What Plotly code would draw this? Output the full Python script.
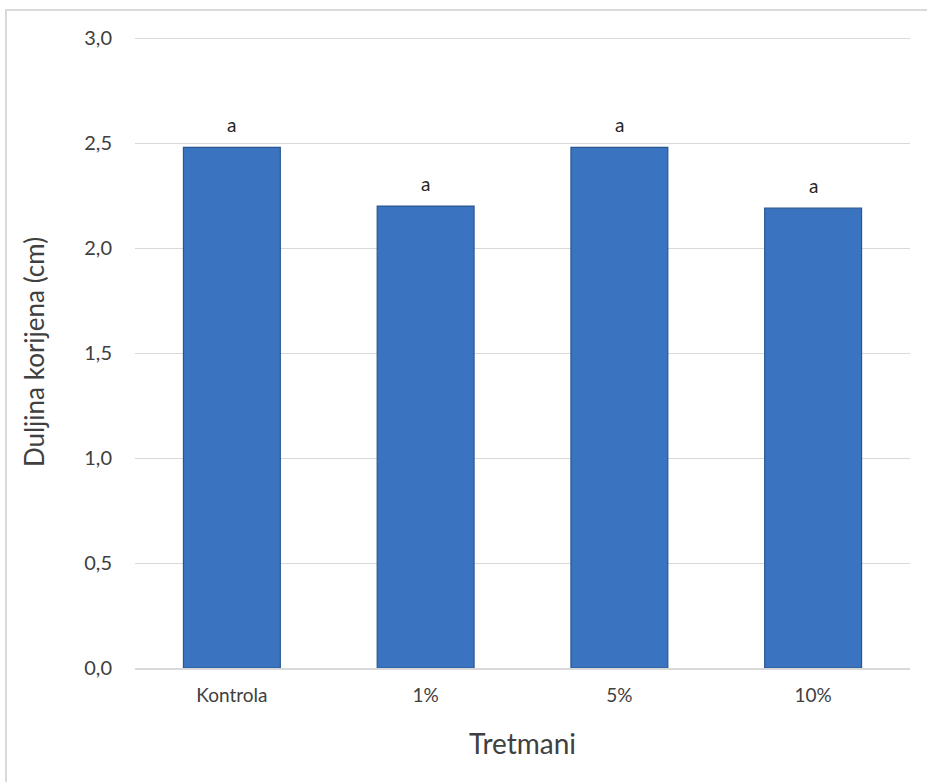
import plotly.graph_objects as go

categories = ["Kontrola", "1%", "5%", "10%"]
values = [2.48, 2.20, 2.48, 2.19]
letters = ["a", "a", "a", "a"]
y_ticks = [0.0, 0.5, 1.0, 1.5, 2.0, 2.5, 3.0]

FONT = "Lato, 'Open Sans', sans-serif"
Y_MAX = 3.01

fig = go.Figure()
fig.add_trace(go.Bar(
    x=categories, y=values, width=0.5,
    marker=dict(color="#3a74c0", line=dict(color="#2a5690", width=1.2)),
    hoverinfo="skip",
))

for c, v, t in zip(categories, values, letters):
    fig.add_annotation(x=c, y=v, text=t, showarrow=False, yshift=23,
                       font=dict(family=FONT, size=19, color="#262626"))

plot_h = 782 - 36 - 114
fig.add_shape(type="rect", xref="paper", yref="paper",
              x0=(6 - 135) / 775, x1=1.2, y0=-0.4, y1=(668 - 10) / plot_h,
              line=dict(color="#d9d9d9", width=2), fillcolor="rgba(0,0,0,0)", layer="below")

fig.update_layout(
    width=927, height=782,
    margin=dict(l=135, r=17, t=36, b=114),
    paper_bgcolor="white", plot_bgcolor="white",
    separators=",.",
    showlegend=False,
    font=dict(family=FONT, color="#404040"),
    xaxis=dict(
        showgrid=False, showline=True, linecolor="#d9d9d9", linewidth=1.5,
        ticks="", tickfont=dict(size=19, color="#404040"), ticklabelstandoff=9,
        title=dict(text="Tretmani", font=dict(size=28, color="#404040"), standoff=30),
    ),
    yaxis=dict(
        range=[0, Y_MAX], tickvals=y_ticks, tickformat=".1f",
        showgrid=True, gridcolor="#d9d9d9", gridwidth=1.2,
        zeroline=False, showline=False, ticks="",
        tickfont=dict(size=20, color="#404040"), ticklabelstandoff=22,
        title=dict(text="Duljina korijena (cm)", font=dict(size=26, color="#404040"), standoff=32),
    ),
)

fig.write_html("out.html", config={"displayModeBar": False},
               post_script="document.body.style.margin='0';")
